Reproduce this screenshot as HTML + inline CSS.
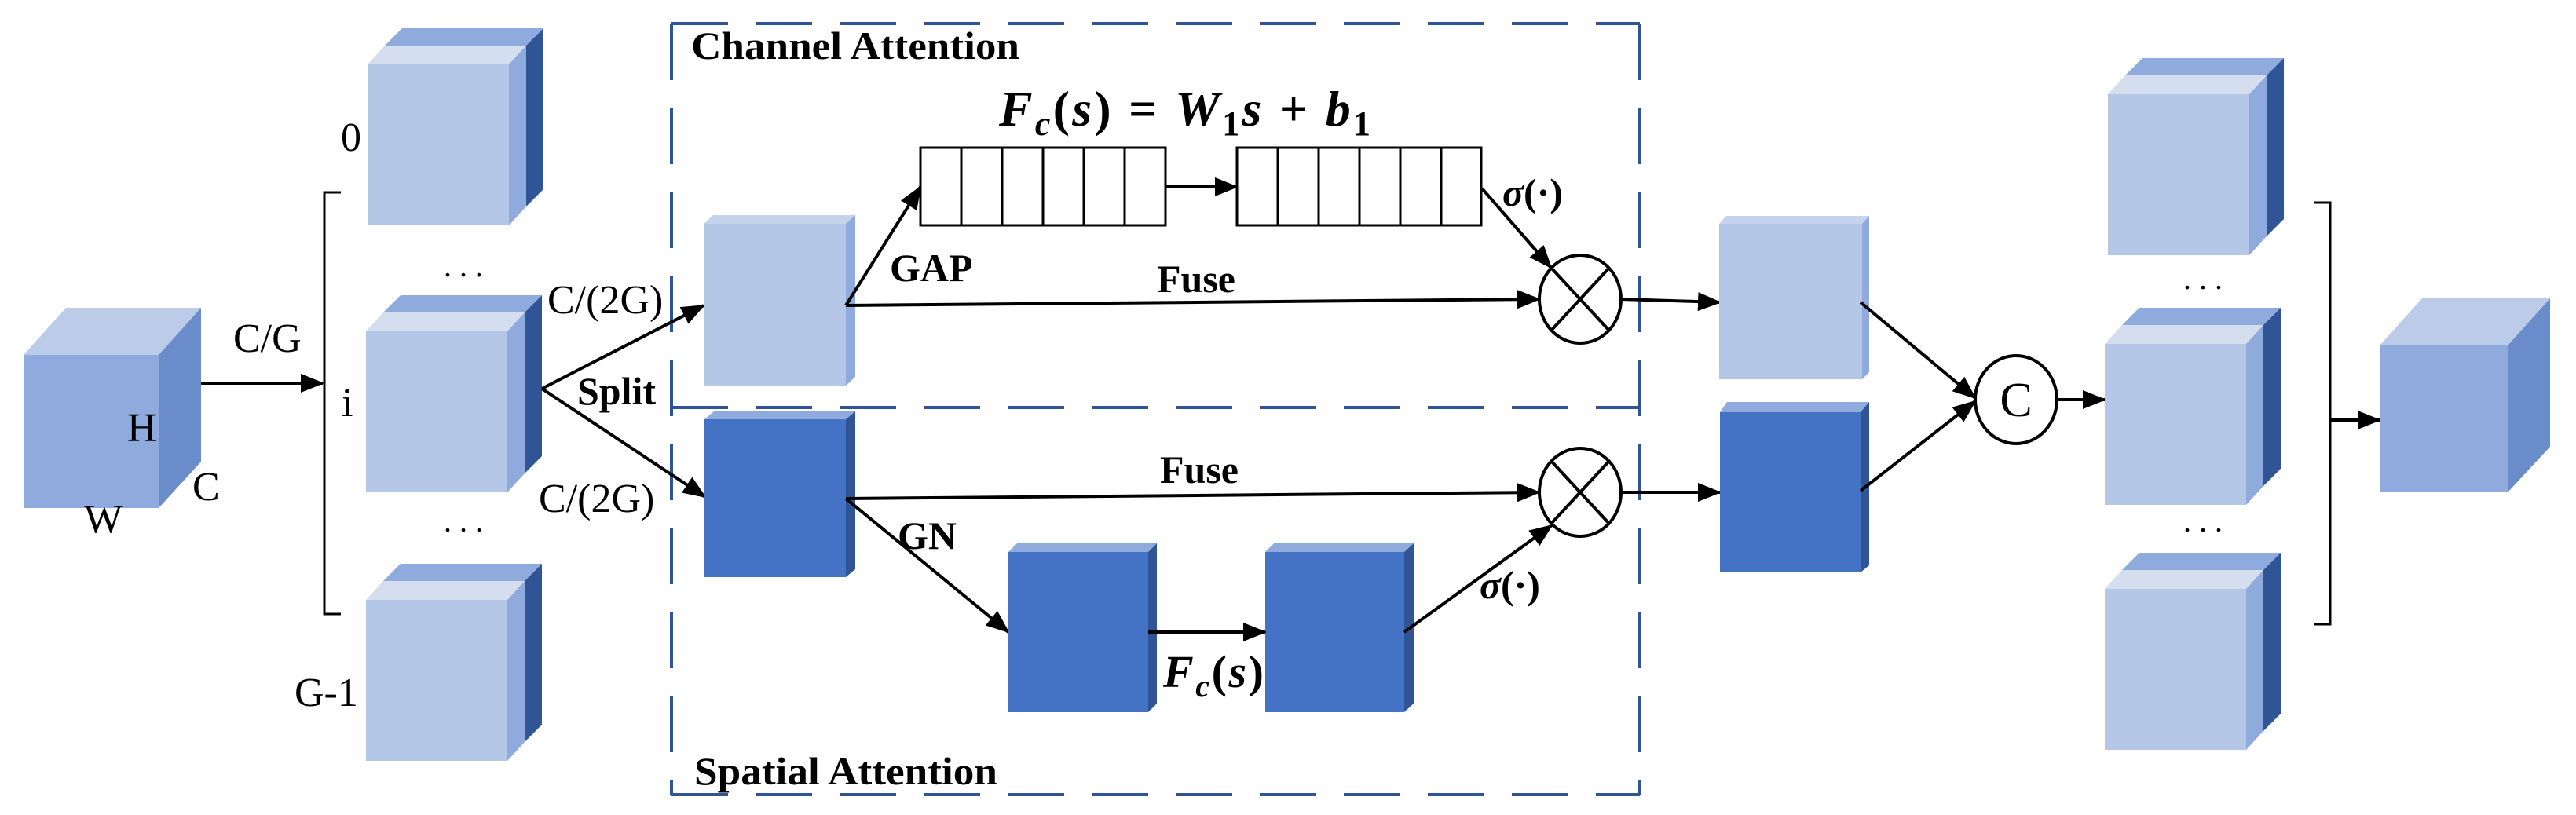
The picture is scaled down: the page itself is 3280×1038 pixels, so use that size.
<!DOCTYPE html>
<html><head><meta charset="utf-8"><style>
html,body{margin:0;padding:0;background:#fff;}
svg{display:block;}
text{font-family:"Liberation Serif",serif;fill:#000;}
</style></head><body>
<svg width="3280" height="1038" viewBox="0 0 3280 1038" xmlns="http://www.w3.org/2000/svg">
<defs>
<marker id="ah" markerWidth="30" markerHeight="24" refX="28" refY="12" orient="auto" markerUnits="userSpaceOnUse">
<path d="M0,0 L30,12 L0,24 Z" fill="#000"/></marker>
<g id="stk">
<polygon points="22,-24 44,-46 224,-46 202,-24" fill="#8faadc"/>
<polygon points="202,-24 224,-46 224,159 202,181" fill="#2f5597"/>
<rect x="0" y="0" width="180" height="205" fill="#b4c7e7"/>
<polygon points="0,0 22,-24 202,-24 180,0" fill="#d5deef"/>
<polygon points="180,0 202,-24 202,181 180,205" fill="#8faadc"/>
</g>
</defs>

<!-- big input cube -->
<polygon points="30,452 84,392 256,392 202,452" fill="#bccbe8"/>
<polygon points="202,452 256,392 256,588 202,647" fill="#6a8cca"/>
<rect x="30" y="452" width="172" height="195" fill="#8faadc"/>
<text x="162" y="562" font-size="52">H</text>
<text x="245" y="637" font-size="52">C</text>
<text x="107" y="678" font-size="52">W</text>
<line x1="256" y1="488" x2="411" y2="488" stroke="#000" stroke-width="4" marker-end="url(#ah)"/>
<text x="297" y="448" font-size="52">C/G</text>

<!-- left bracket -->
<polyline points="434,245 413,245 413,782 434,782" fill="none" stroke="#000" stroke-width="3"/>
<text x="434" y="192" font-size="52">0</text>
<text x="435" y="530" font-size="52">i</text>
<text x="375" y="899" font-size="52">G-1</text>

<use href="#stk" x="468" y="82"/>
<use href="#stk" x="466" y="422"/>
<use href="#stk" x="466" y="764"/>
<text x="565" y="352" font-size="40">. . .</text>
<text x="565" y="677" font-size="40">. . .</text>

<!-- dashed boxes -->
<g stroke="#2f5597" stroke-width="4" fill="none" stroke-dasharray="72 35">
<line x1="855" y1="30" x2="2088" y2="30"/>
<line x1="855" y1="519" x2="2088" y2="519"/>
<line x1="855" y1="1012" x2="2088" y2="1012"/>
<line x1="855" y1="30" x2="855" y2="1012"/>
<line x1="2088" y1="30" x2="2088" y2="1012"/>
</g>
<text x="880" y="75" font-size="50" font-weight="bold" textLength="418" lengthAdjust="spacingAndGlyphs">Channel Attention</text>
<text x="884" y="999" font-size="50" font-weight="bold" textLength="386" lengthAdjust="spacingAndGlyphs">Spatial Attention</text>

<!-- split -->
<line x1="690" y1="495" x2="896" y2="389" stroke="#000" stroke-width="4" marker-end="url(#ah)"/>
<line x1="690" y1="495" x2="898" y2="633" stroke="#000" stroke-width="4" marker-end="url(#ah)"/>
<text x="697" y="399" font-size="52">C/(2G)</text>
<text x="686" y="652" font-size="52">C/(2G)</text>
<text x="735" y="515" font-size="50" font-weight="bold">Split</text>

<!-- upper light box -->
<polygon points="896,285 908,274 1089,274 1077,285" fill="#c5d3ec"/>
<polygon points="1077,285 1089,274 1089,480 1077,491" fill="#8faadc"/>
<rect x="896" y="285" width="181" height="206" fill="#b4c7e7"/>
<!-- lower dark box -->
<polygon points="897,534 909,524 1089,524 1077,534" fill="#8faadc"/>
<polygon points="1077,534 1089,524 1089,725 1077,735" fill="#2f5597"/>
<rect x="897" y="534" width="180" height="201" fill="#4472c4"/>

<!-- GAP & vectors -->
<line x1="1077" y1="389" x2="1172" y2="238" stroke="#000" stroke-width="4" marker-end="url(#ah)"/>
<text x="1133" y="358" font-size="50" font-weight="bold">GAP</text>
<g fill="#fff" stroke="#000" stroke-width="3">
<rect x="1172" y="188" width="312" height="99"/>
<rect x="1575" y="188" width="311" height="99"/>
</g>
<g stroke="#000" stroke-width="3">
<line x1="1224" y1="188" x2="1224" y2="287"/><line x1="1276" y1="188" x2="1276" y2="287"/><line x1="1328" y1="188" x2="1328" y2="287"/><line x1="1380" y1="188" x2="1380" y2="287"/><line x1="1432" y1="188" x2="1432" y2="287"/>
<line x1="1627" y1="188" x2="1627" y2="287"/><line x1="1679" y1="188" x2="1679" y2="287"/><line x1="1731" y1="188" x2="1731" y2="287"/><line x1="1783" y1="188" x2="1783" y2="287"/><line x1="1835" y1="188" x2="1835" y2="287"/>
</g>
<line x1="1484" y1="238" x2="1575" y2="238" stroke="#000" stroke-width="4" marker-end="url(#ah)"/>
<text x="1272" y="160" font-size="64" font-weight="bold" font-style="italic" textLength="473" lengthAdjust="spacing">F<tspan font-size="44" dy="12">c</tspan><tspan dy="-12" font-style="normal">(</tspan>s<tspan font-style="normal">)  =  </tspan>W<tspan font-size="44" dy="12" font-style="normal">1</tspan><tspan dy="-12">s</tspan><tspan font-style="normal">  +  </tspan>b<tspan font-size="44" dy="12" font-style="normal">1</tspan></text>
<line x1="1887" y1="240" x2="1975" y2="341" stroke="#000" stroke-width="4" marker-end="url(#ah)"/>
<text x="1913" y="262" font-size="50" font-weight="bold"><tspan font-style="italic">σ</tspan>(·)</text>

<!-- fuse upper -->
<line x1="1077" y1="389" x2="1960" y2="381" stroke="#000" stroke-width="4" marker-end="url(#ah)"/>
<text x="1473" y="372" font-size="50" font-weight="bold">Fuse</text>
<g fill="#fff" stroke="#000" stroke-width="4">
<ellipse cx="2012" cy="381" rx="52" ry="56"/>
<ellipse cx="2012" cy="627" rx="52" ry="56"/>
</g>
<g stroke="#000" stroke-width="4">
<line x1="1975" y1="341" x2="2049" y2="421"/><line x1="2049" y1="341" x2="1975" y2="421"/>
<line x1="1975" y1="587" x2="2049" y2="667"/><line x1="2049" y1="587" x2="1975" y2="667"/>
</g>

<!-- lower path -->
<line x1="1077" y1="635" x2="1960" y2="627" stroke="#000" stroke-width="4" marker-end="url(#ah)"/>
<text x="1477" y="615" font-size="50" font-weight="bold">Fuse</text>
<line x1="1077" y1="635" x2="1284" y2="805" stroke="#000" stroke-width="4" marker-end="url(#ah)"/>
<text x="1143" y="699" font-size="50" font-weight="bold">GN</text>
<polygon points="1284,703 1295,692 1473,692 1462,703" fill="#8faadc"/>
<polygon points="1462,703 1473,692 1473,896 1462,907" fill="#2f5597"/>
<rect x="1284" y="703" width="178" height="204" fill="#4472c4"/>
<polygon points="1611,703 1622,692 1800,692 1788,703" fill="#8faadc"/>
<polygon points="1788,703 1800,692 1800,896 1788,907" fill="#2f5597"/>
<rect x="1611" y="703" width="177" height="204" fill="#4472c4"/>
<line x1="1462" y1="805" x2="1611" y2="805" stroke="#000" stroke-width="4" marker-end="url(#ah)"/>
<text x="1481" y="875" font-size="58" font-weight="bold" font-style="italic" textLength="128" lengthAdjust="spacing">F<tspan font-size="40" dy="12">c</tspan><tspan dy="-12" font-style="normal">(</tspan>s<tspan font-style="normal">)</tspan></text>
<line x1="1788" y1="805" x2="1976" y2="669" stroke="#000" stroke-width="4" marker-end="url(#ah)"/>
<text x="1884" y="762" font-size="50" font-weight="bold"><tspan font-style="italic">σ</tspan>(·)</text>

<!-- outputs -->
<line x1="2064" y1="381" x2="2190" y2="385" stroke="#000" stroke-width="4" marker-end="url(#ah)"/>
<line x1="2064" y1="627" x2="2190" y2="627" stroke="#000" stroke-width="4" marker-end="url(#ah)"/>
<polygon points="2189,285 2198,275 2380,275 2371,285" fill="#c5d3ec"/>
<polygon points="2371,285 2380,275 2380,474 2371,483" fill="#8faadc"/>
<rect x="2189" y="285" width="182" height="198" fill="#b4c7e7"/>
<polygon points="2190,525 2199,512 2380,512 2369,525" fill="#8faadc"/>
<polygon points="2369,525 2380,512 2380,720 2369,729" fill="#2f5597"/>
<rect x="2190" y="525" width="179" height="204" fill="#4472c4"/>
<line x1="2369" y1="385" x2="2515" y2="507" stroke="#000" stroke-width="4" marker-end="url(#ah)"/>
<line x1="2369" y1="625" x2="2515" y2="511" stroke="#000" stroke-width="4" marker-end="url(#ah)"/>
<ellipse cx="2567" cy="509" rx="52" ry="56" fill="#fff" stroke="#000" stroke-width="4"/>
<text x="2567" y="530" font-size="62" text-anchor="middle" font-family="Liberation Serif, serif">C</text>
<line x1="2619" y1="509" x2="2680" y2="509" stroke="#000" stroke-width="4" marker-end="url(#ah)"/>

<use href="#stk" x="2684" y="120"/>
<use href="#stk" x="2680" y="438"/>
<use href="#stk" x="2680" y="750"/>
<text x="2780" y="368" font-size="40">. . .</text>
<text x="2780" y="677" font-size="40">. . .</text>

<polyline points="2947,258 2967,258 2967,795 2947,795" fill="none" stroke="#000" stroke-width="3"/>
<line x1="2967" y1="535" x2="3030" y2="535" stroke="#000" stroke-width="4" marker-end="url(#ah)"/>
<polygon points="3030,440 3084,380 3247,380 3193,440" fill="#bccbe8"/>
<polygon points="3193,440 3247,380 3247,569 3193,627" fill="#6a8cca"/>
<rect x="3030" y="440" width="163" height="187" fill="#8faadc"/>
</svg>
</body></html>
